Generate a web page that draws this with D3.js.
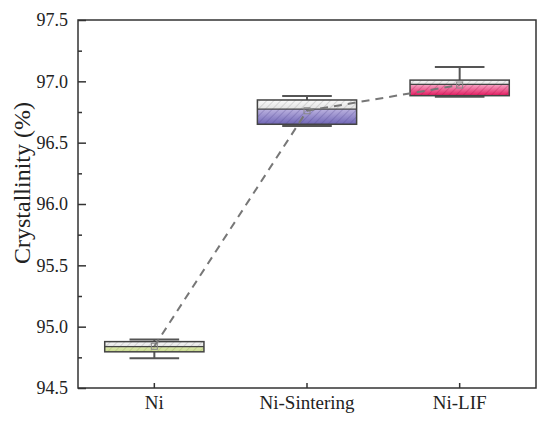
<!DOCTYPE html>
<html>
<head>
<meta charset="utf-8">
<script src="https://cdn.jsdelivr.net/npm/d3@7"></script>
<style>
  body { margin: 0; background: #fff; }
  svg, svg text { font-family: "Liberation Serif", "Times New Roman", Times, serif !important; }
</style>
</head>
<body>
<div id="chart"></div>
<script>
const categories = ["Ni", "Ni-Sintering", "Ni-LIF"];
const whiskerLow = [94.742, 96.635, 96.875];
const q1 = [94.795, 96.650, 96.883];
const median = [94.837, 96.774, 96.976];
const q3 = [94.878, 96.848, 97.010];
const whiskerHigh = [94.895, 96.880, 97.117];
const means = [94.840, 96.760, 96.970];
const yTicks = [94.5, 95.0, 95.5, 96.0, 96.5, 97.0, 97.5];
const yMinorTicks = [94.75, 95.25, 95.75, 96.25, 96.75, 97.25];

const colorTop = ["#dde9ae", "#bcb3e0", "#f5a8c6"];
const colorBottom = ["#c8d98e", "#7066b6", "#e3195f"];
const hatchColor = ["#8a9a50", "#4a4088", "#a01048"];

const margin = { top: 20, right: 17, bottom: 36, left: 78 };
const width = 553 - margin.left - margin.right;
const height = 424 - margin.top - margin.bottom;

const data = categories.map((c, i) => ({
  cat: c, lo: whiskerLow[i], q1: q1[i], med: median[i], q3: q3[i], hi: whiskerHigh[i], mean: means[i], i
}));

const svg = d3.select("#chart")
  .append("svg")
  .attr("width", 553)
  .attr("height", 424);

const defs = svg.append("defs");

// gradients + hatch patterns
data.forEach(d => {
  const g = defs.append("linearGradient")
    .attr("id", `grad${d.i}`)
    .attr("x1", 0).attr("y1", 0).attr("x2", 0).attr("y2", 1);
  g.append("stop").attr("offset", "0%").attr("stop-color", colorTop[d.i]);
  g.append("stop").attr("offset", "100%").attr("stop-color", colorBottom[d.i]);

  const p = defs.append("pattern")
    .attr("id", `hatch${d.i}`)
    .attr("patternUnits", "userSpaceOnUse")
    .attr("width", 5).attr("height", 5)
    .attr("patternTransform", "rotate(45)");
  p.append("line")
    .attr("x1", 0).attr("y1", 0).attr("x2", 0).attr("y2", 5)
    .attr("stroke", hatchColor[d.i])
    .attr("stroke-width", 1)
    .attr("stroke-opacity", 0.55);
});

const gg = defs.append("linearGradient")
  .attr("id", "gradGray")
  .attr("x1", 0).attr("y1", 0).attr("x2", 0).attr("y2", 1);
gg.append("stop").attr("offset", "0%").attr("stop-color", "#fafafa");
gg.append("stop").attr("offset", "100%").attr("stop-color", "#e2e2e2");

const pg = defs.append("pattern")
  .attr("id", "hatchGray")
  .attr("patternUnits", "userSpaceOnUse")
  .attr("width", 5).attr("height", 5)
  .attr("patternTransform", "rotate(45)");
pg.append("line")
  .attr("x1", 0).attr("y1", 0).attr("x2", 0).attr("y2", 5)
  .attr("stroke", "#888")
  .attr("stroke-width", 1)
  .attr("stroke-opacity", 0.55);

const chart = svg.append("g")
  .attr("transform", `translate(${margin.left},${margin.top})`);

const xScale = d3.scaleBand()
  .domain(categories)
  .range([0, width]);

const yScale = d3.scaleLinear()
  .domain([94.5, 97.5])
  .range([height, 0]);

const boxW = xScale.bandwidth() * 0.65;
const capW = boxW * 0.5;
const cx = d => xScale(d.cat) + xScale.bandwidth() / 2;

// whiskers
const boxes = chart.selectAll(".box")
  .data(data)
  .join("g")
  .attr("class", "box");

boxes.append("line")
  .attr("x1", cx).attr("x2", cx)
  .attr("y1", d => yScale(d.q3)).attr("y2", d => yScale(d.hi))
  .attr("stroke", "#555").attr("stroke-width", 2);
boxes.append("line")
  .attr("x1", cx).attr("x2", cx)
  .attr("y1", d => yScale(d.q1)).attr("y2", d => yScale(d.lo))
  .attr("stroke", "#555").attr("stroke-width", 2);
boxes.append("line")
  .attr("x1", d => cx(d) - capW / 2).attr("x2", d => cx(d) + capW / 2)
  .attr("y1", d => yScale(d.hi)).attr("y2", d => yScale(d.hi))
  .attr("stroke", "#555").attr("stroke-width", 2);
boxes.append("line")
  .attr("x1", d => cx(d) - capW / 2).attr("x2", d => cx(d) + capW / 2)
  .attr("y1", d => yScale(d.lo)).attr("y2", d => yScale(d.lo))
  .attr("stroke", "#555").attr("stroke-width", 2);

// upper half (median -> q3): gray
boxes.append("rect")
  .attr("x", d => cx(d) - boxW / 2)
  .attr("y", d => yScale(d.q3))
  .attr("width", boxW)
  .attr("height", d => yScale(d.med) - yScale(d.q3))
  .attr("fill", "url(#gradGray)");
boxes.append("rect")
  .attr("x", d => cx(d) - boxW / 2)
  .attr("y", d => yScale(d.q3))
  .attr("width", boxW)
  .attr("height", d => yScale(d.med) - yScale(d.q3))
  .attr("fill", "url(#hatchGray)");

// lower half (q1 -> median): colored
boxes.append("rect")
  .attr("x", d => cx(d) - boxW / 2)
  .attr("y", d => yScale(d.med))
  .attr("width", boxW)
  .attr("height", d => yScale(d.q1) - yScale(d.med))
  .attr("fill", d => `url(#grad${d.i})`);
boxes.append("rect")
  .attr("x", d => cx(d) - boxW / 2)
  .attr("y", d => yScale(d.med))
  .attr("width", boxW)
  .attr("height", d => yScale(d.q1) - yScale(d.med))
  .attr("fill", d => `url(#hatch${d.i})`);

// outline + median
boxes.append("rect")
  .attr("x", d => cx(d) - boxW / 2)
  .attr("y", d => yScale(d.q3))
  .attr("width", boxW)
  .attr("height", d => yScale(d.q1) - yScale(d.q3))
  .attr("fill", "none")
  .attr("stroke", "#444")
  .attr("stroke-width", 1.5);
boxes.append("line")
  .attr("x1", d => cx(d) - boxW / 2).attr("x2", d => cx(d) + boxW / 2)
  .attr("y1", d => yScale(d.med)).attr("y2", d => yScale(d.med))
  .attr("stroke", "#444").attr("stroke-width", 1.2);

// mean line (dashed)
const line = d3.line()
  .x(d => cx(d))
  .y(d => yScale(d.mean));

chart.append("path")
  .datum(data)
  .attr("d", line)
  .attr("fill", "none")
  .attr("stroke", "#777")
  .attr("stroke-width", 2)
  .attr("stroke-dasharray", "8,6");

// mean markers
boxes.append("rect")
  .attr("x", d => cx(d) - 3)
  .attr("y", d => yScale(d.mean) - 3)
  .attr("width", 6).attr("height", 6)
  .attr("fill", "none")
  .attr("stroke", "#888")
  .attr("stroke-width", 1);

// axes
const yAxis = d3.axisLeft(yScale)
  .tickValues(yTicks)
  .tickFormat(d3.format(".1f"))
  .tickSizeInner(-8)
  .tickSizeOuter(0)
  .tickPadding(10);

const yg = chart.append("g").call(yAxis).attr("font-family", null);
yg.select(".domain").remove();
yg.selectAll("line").attr("stroke", "#333").attr("stroke-width", 1.5);
yg.selectAll("text").attr("font-size", 18).attr("fill", "#222");

const yMinor = d3.axisLeft(yScale)
  .tickValues(yMinorTicks)
  .tickFormat("")
  .tickSizeInner(-4)
  .tickSizeOuter(0);
const ymg = chart.append("g").call(yMinor);
ymg.select(".domain").remove();
ymg.selectAll("line").attr("stroke", "#333").attr("stroke-width", 1.5);

const xAxis = d3.axisBottom(xScale)
  .tickSizeInner(-5)
  .tickSizeOuter(0)
  .tickPadding(8);

const xg = chart.append("g")
  .attr("transform", `translate(0,${height})`)
  .call(xAxis)
  .attr("font-family", null);
xg.select(".domain").remove();
xg.selectAll("line").attr("stroke", "#333").attr("stroke-width", 1.5);
xg.selectAll("text").attr("font-size", 19).attr("fill", "#222");

// frame
chart.append("rect")
  .attr("x", 0).attr("y", 0)
  .attr("width", width).attr("height", height)
  .attr("fill", "none")
  .attr("stroke", "#333")
  .attr("stroke-width", 1.5);

// y title
svg.append("text")
  .attr("transform", "rotate(-90)")
  .attr("x", -183)
  .attr("y", 30)
  .attr("text-anchor", "middle")
  .attr("font-size", 24)
  .attr("fill", "#222")
  .text("Crystallinity (%)");
</script>
</body>
</html>
